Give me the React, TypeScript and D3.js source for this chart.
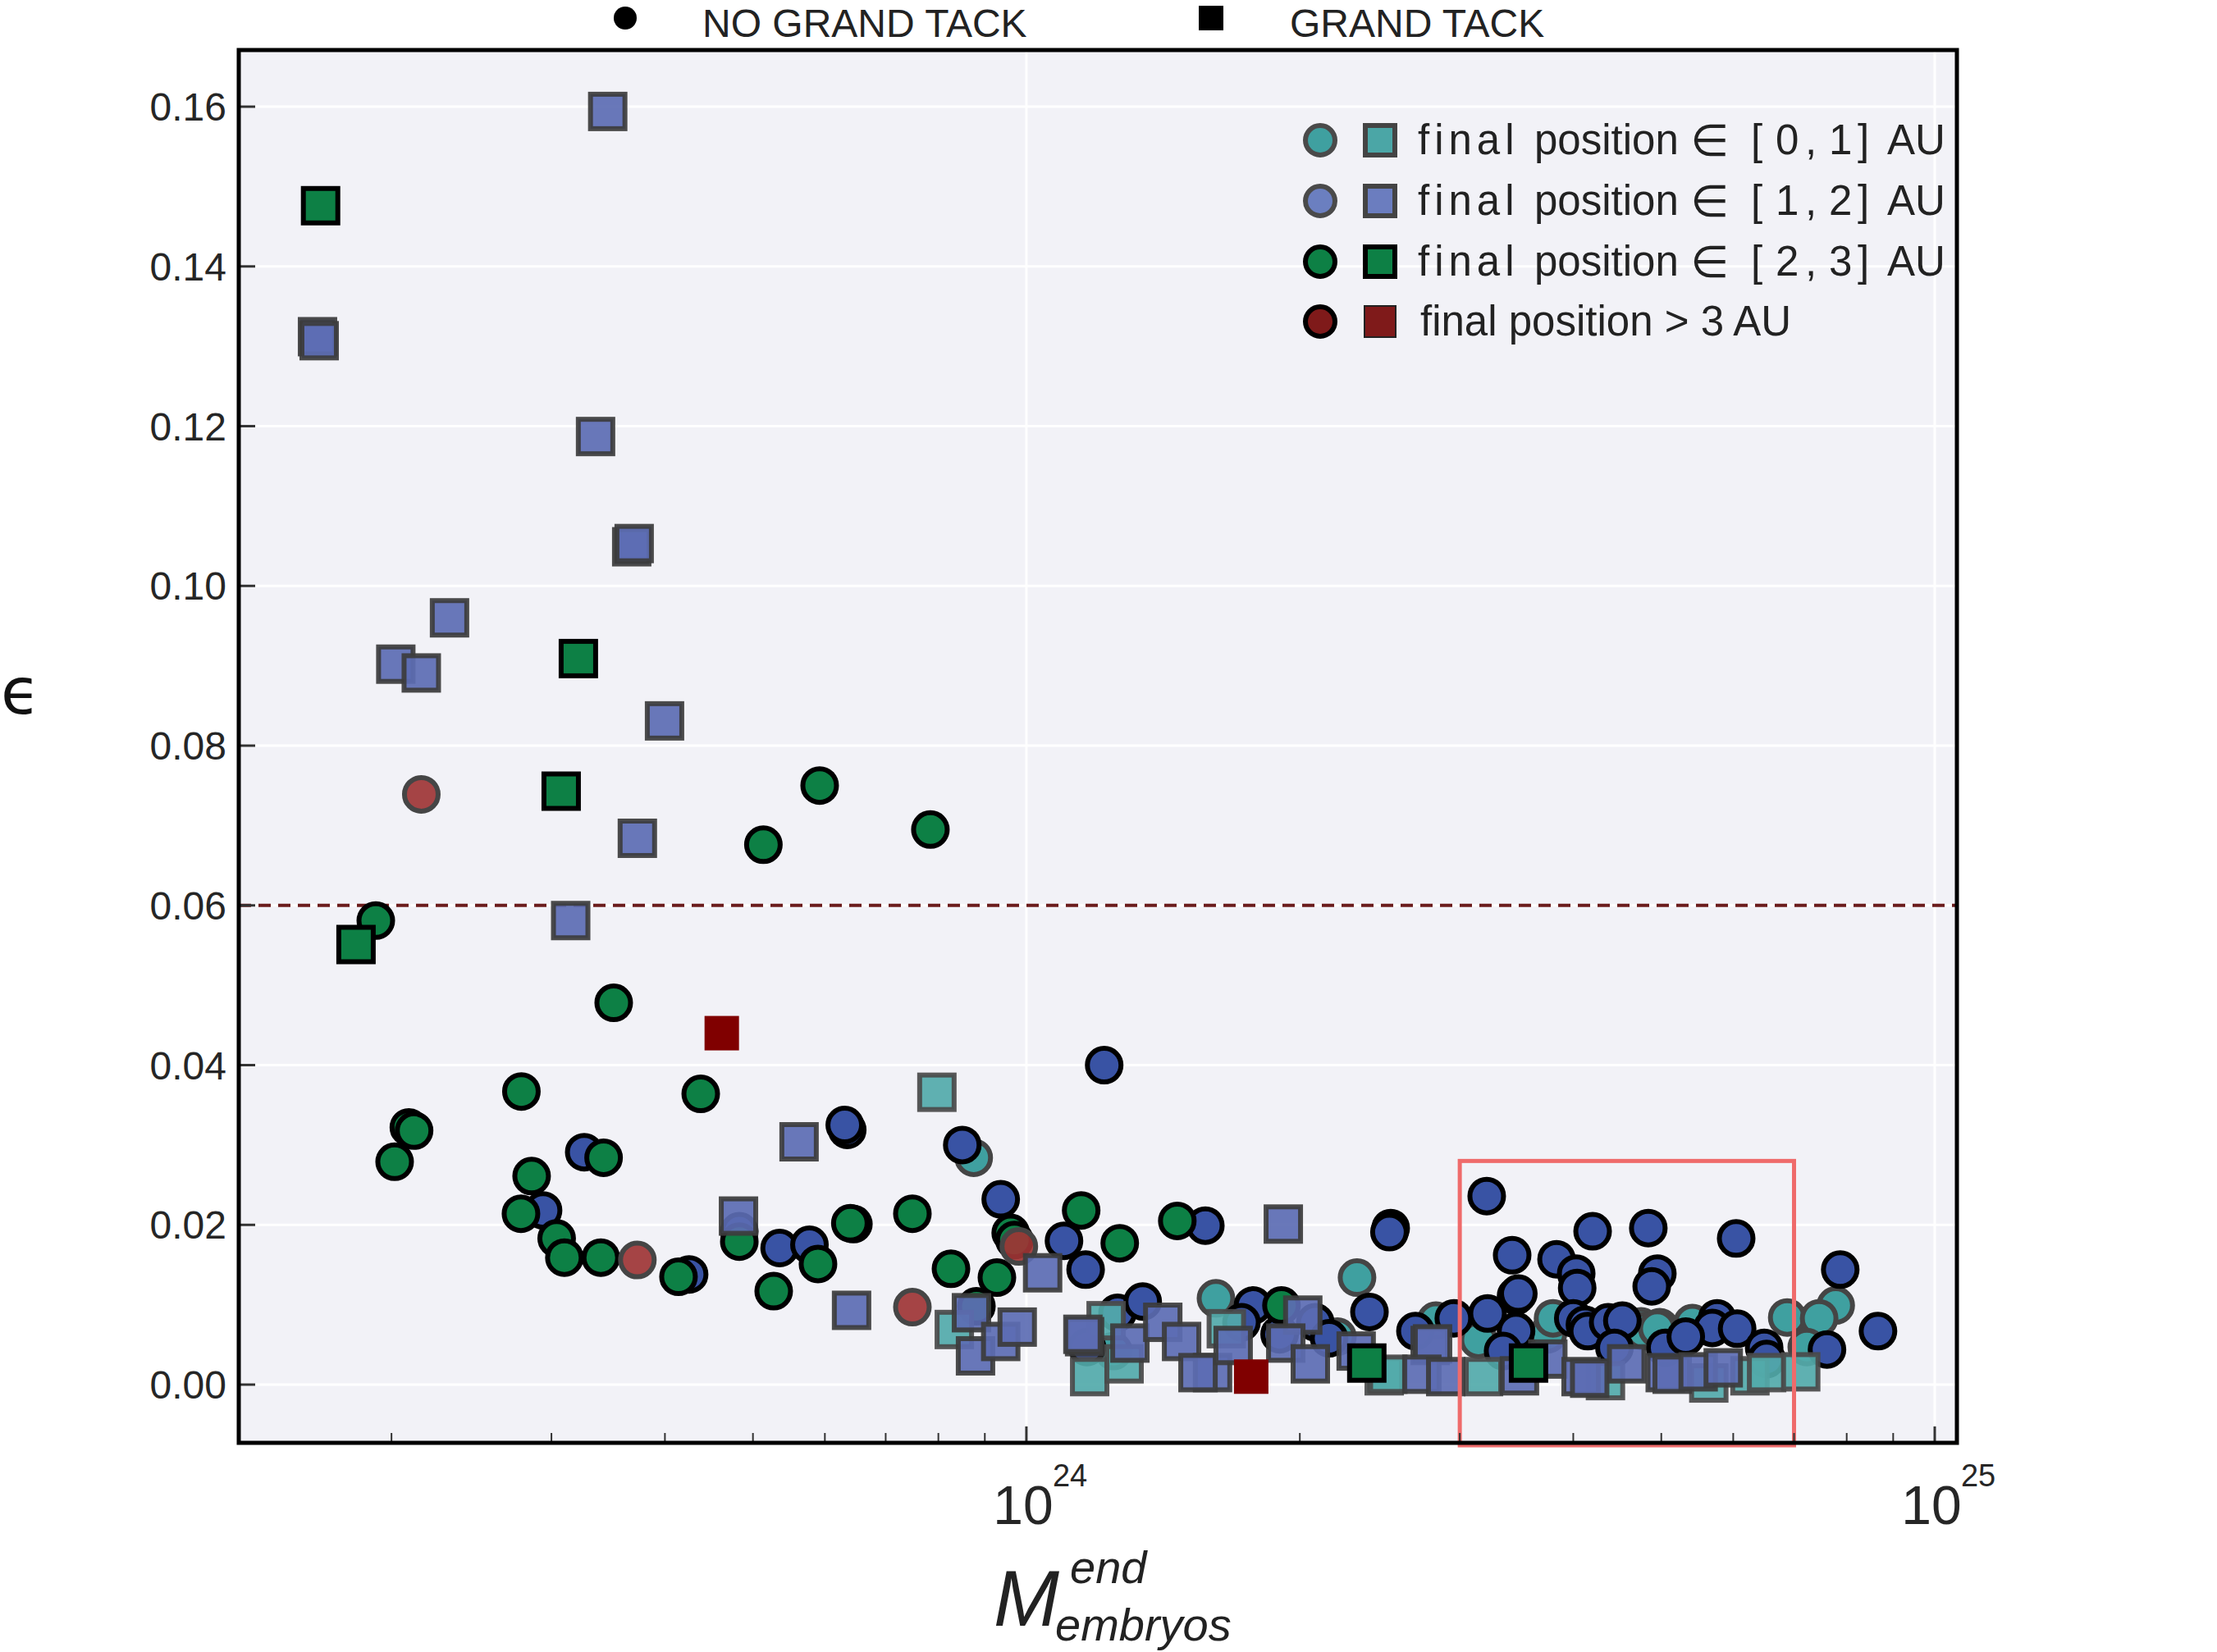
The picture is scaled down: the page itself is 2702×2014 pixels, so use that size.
import React from 'react';
import * as d3 from 'd3';

// masses are in units of 1e24, second value is epsilon
const noGtAu01: [number, number][] = [
  [0.875, 0.0284], [1.617, 0.0108], [2.312, 0.0134], [1.247, 0.0042], [2.2, 0.006],
  [2.824, 0.008], [3.146, 0.0056], [3.75, 0.0063], [3.8, 0.0083], [4.75, 0.0073],
  [4.98, 0.0072], [4.78, 0.0067], [4.95, 0.007], [5.41, 0.0077], [6.88, 0.0084],
  [7.78, 0.0099], [7.46, 0.0083], [7.23, 0.0047],
];

const noGtAu12: [number, number][] = [
  [0.326, 0.0291], [0.2937, 0.0218], [0.4253, 0.0138], [0.483, 0.0192], [0.635, 0.0319],
  [0.631, 0.0325], [1.218, 0.04], [0.85, 0.03], [0.937, 0.0232], [1.1, 0.018],
  [1.162, 0.0144], [0.535, 0.0171], [0.577, 0.0175], [1.166, 0.0047], [1.26, 0.009],
  [1.343, 0.0104], [1.574, 0.0199], [2.518, 0.0196], [2.51, 0.0191], [2.386, 0.0091],
  [1.776, 0.0099], [1.725, 0.0078], [2.08, 0.0078], [2.154, 0.0058], [1.9, 0.0063],
  [2.681, 0.0067], [2.955, 0.0083], [3.212, 0.0236], [3.426, 0.0162], [3.219, 0.0089],
  [3.46, 0.0111], [3.48, 0.0114], [3.46, 0.0067], [3.348, 0.0042], [3.834, 0.0157],
  [4.201, 0.0192], [4.03, 0.0139], [4.04, 0.0121], [4.838, 0.0196], [4.95, 0.0139],
  [4.88, 0.0123], [4.0, 0.0083], [4.12, 0.0075], [4.15, 0.0067], [4.37, 0.0078],
  [4.53, 0.008], [4.44, 0.0046], [5.05, 0.0046], [6.045, 0.0183], [7.87, 0.0144],
  [8.66, 0.0067], [7.61, 0.0044], [5.76, 0.0083], [5.69, 0.0071], [6.06, 0.007],
  [6.49, 0.0046], [6.53, 0.0032], [5.32, 0.006],
];

const noGtAu23: [number, number][] = [
  [0.1922, 0.0581], [0.2016, 0.0279], [0.209, 0.0322], [0.2118, 0.0318], [0.3513, 0.0478],
  [0.278, 0.0367], [0.3424, 0.0284], [0.438, 0.0364], [0.2853, 0.0261], [0.2777, 0.0214],
  [0.304, 0.0183], [0.31, 0.0159], [0.34, 0.0159], [0.414, 0.0135], [0.483, 0.0179],
  [0.5134, 0.0676], [0.5921, 0.075], [0.784, 0.0695], [0.749, 0.0214], [0.645, 0.0201],
  [0.64, 0.0202], [0.527, 0.0117], [0.5896, 0.0151], [0.826, 0.0145], [0.928, 0.0134],
  [0.881, 0.0098], [0.961, 0.019], [0.97, 0.0181], [1.149, 0.0218], [1.267, 0.0177],
  [1.466, 0.0205], [1.909, 0.0099],
];

const noGtAu3: [number, number][] = [
  [0.2157, 0.0739], [0.373, 0.0156], [0.749, 0.0097], [0.981, 0.0173],
];

const gtAu01: [number, number][] = [
  [0.797, 0.0366], [0.833, 0.0069], [1.174, 0.001], [1.224, 0.008], [1.281, 0.0026],
  [1.66, 0.007], [2.477, 0.0011], [2.5, 0.0013], [3.186, 0.001], [4.34, 0.0005],
  [5.64, 0.0002], [6.26, 0.0011], [6.53, 0.0015], [7.12, 0.0016],
];

const gtAu12: [number, number][] = [
  [0.346, 0.1594], [0.1658, 0.1312], [0.1665, 0.1307], [0.3355, 0.1187], [0.3677, 0.1049],
  [0.37, 0.1053], [0.2317, 0.096], [0.2022, 0.0902], [0.2157, 0.0891], [0.3996, 0.0831],
  [0.373, 0.0684], [0.315, 0.0581], [0.562, 0.0304], [0.482, 0.0211], [0.642, 0.0093],
  [1.042, 0.014], [1.918, 0.0201], [0.87, 0.009], [0.879, 0.0036], [0.937, 0.0054],
  [0.977, 0.0072], [1.159, 0.006], [1.3, 0.0052], [1.154, 0.0063], [1.413, 0.0078],
  [1.482, 0.0054], [1.603, 0.0015], [1.545, 0.0015], [1.689, 0.0049], [2.015, 0.0087],
  [1.93, 0.0052], [2.054, 0.0026], [2.307, 0.0042], [2.783, 0.0049], [2.8, 0.0051],
  [2.725, 0.0013], [2.895, 0.001], [3.49, 0.0011], [3.75, 0.0032], [4.08, 0.001],
  [4.17, 0.0008], [4.58, 0.0026], [5.05, 0.0015], [5.14, 0.0013], [5.49, 0.0016],
  [5.85, 0.0021],
];

const gtAu23: [number, number][] = [
  [0.1671, 0.1476], [0.3212, 0.0909], [0.3075, 0.0743], [0.1828, 0.0551], [2.37, 0.0027],
  [3.571, 0.0027],
];

const gtAu3: [number, number][] = [
  [0.462, 0.044], [1.768, 0.001],
];

const xDomain = [0.1358, 10.578];
const yDomain = [-0.00729, 0.16709];
const yTicks = [0, 0.02, 0.04, 0.06, 0.08, 0.1, 0.12, 0.14, 0.16];
const xMajorTicks = [1, 10];
const xMajorExp = ['24', '25'];
const threshold = 0.06;
const boxX = [3, 7];
const boxY = [-0.0076, 0.028];

const topLegend = ['NO GRAND TACK', 'GRAND TACK'];
const legendRanges = [['0', '1'], ['1', '2'], ['2', '3']];
const legendLast = 'final position > 3 AU';

const FONT = "'Liberation Sans', Arial, 'DejaVu Sans', sans-serif";
const W = 2702;
const H = 2014;
const L = 291, R = 2385, T = 61, B = 1759;

const series = [
  { data: noGtAu01, shape: 'circle', fill: '#3fa0a0', stroke: '#454545', fo: 1, so: 1 },
  { data: noGtAu12, shape: 'circle', fill: '#3953a4', stroke: '#000', fo: 1, so: 1 },
  { data: noGtAu23, shape: 'circle', fill: '#0d8045', stroke: '#000', fo: 1, so: 1 },
  { data: noGtAu3, shape: 'circle', fill: '#9e3535', stroke: '#454545', fo: 0.92, so: 1 },
  { data: gtAu01, shape: 'square', fill: '#52aaaa', stroke: '#4a4a4a', fo: 0.92, so: 0.92 },
  { data: gtAu12, shape: 'square', fill: '#5c6db3', stroke: '#3c3c3c', fo: 0.92, so: 0.92 },
  { data: gtAu23, shape: 'square', fill: '#0d8045', stroke: '#000', fo: 1, so: 1 },
  { data: gtAu3, shape: 'square', fill: '#800000', stroke: 'none', fo: 1, so: 1 },
];

const legendRows = [
  { c: '#3fa0a0', ce: '#4a4a4a', s: '#4ba6a6', se: '#444' },
  { c: '#6b7fc0', ce: '#4a4a4a', s: '#6b7dbf', se: '#444' },
  { c: '#0d8045', ce: '#000', s: '#0d8045', se: '#000' },
  { c: '#7f1a1a', ce: '#000', s: '#7f1a1a', se: '#222' },
];

const App: React.FC = () => {
  const x = d3.scaleLog().domain(xDomain).range([L, R]);
  const y = d3.scaleLinear().domain(yDomain).range([B, T]);
  const minorTicks = x
    .ticks()
    .filter((t) => Math.abs(Math.log10(t) - Math.round(Math.log10(t))) > 1e-6);

  const r = 20.5;
  const side = 42;
  const rowY = [171, 245, 319, 392];
  const tx = 1728;

  return (
    <div style={{ position: 'absolute', left: 0, top: 0 }}>
      <svg width={W} height={H} style={{ display: 'block' }} fontFamily={FONT}>
        <rect x={0} y={0} width={W} height={H} fill="#fff" />
        <rect x={L} y={T} width={R - L} height={B - T} fill="#f2f2f7" />

        {/* grid */}
        {yTicks.map((t) => (
          <line key={'gy' + t} x1={L} x2={R} y1={y(t)} y2={y(t)} stroke="#fff" strokeWidth={3} />
        ))}
        {xMajorTicks.map((t) => (
          <line key={'gx' + t} x1={x(t)} x2={x(t)} y1={T} y2={B} stroke="#fff" strokeWidth={3} />
        ))}

        <line x1={L} x2={R} y1={y(threshold)} y2={y(threshold)} stroke="#6b1c1c"
          strokeWidth={4} strokeDasharray="15 9" />

        {/* points */}
        {series.map((s, si) => (
          <g key={si}>
            {s.data.map((d, i) =>
              s.shape === 'circle' ? (
                <circle key={i} cx={x(d[0])} cy={y(d[1])} r={r} fill={s.fill}
                  fillOpacity={s.fo} stroke={s.stroke} strokeOpacity={s.so} strokeWidth={6} />
              ) : (
                <rect key={i} x={x(d[0]) - side / 2} y={y(d[1]) - side / 2} width={side}
                  height={side} fill={s.fill} fillOpacity={s.fo} stroke={s.stroke}
                  strokeOpacity={s.so} strokeWidth={6} />
              )
            )}
          </g>
        ))}

        <rect x={x(boxX[0])} y={y(boxY[1])} width={x(boxX[1]) - x(boxX[0])}
          height={y(boxY[0]) - y(boxY[1])} fill="none" stroke="#ef6b6b" strokeWidth={5} />

        {/* ticks */}
        {yTicks.map((t) => (
          <line key={'ty' + t} x1={L} x2={L + 20} y1={y(t)} y2={y(t)} stroke="#333" strokeWidth={3} />
        ))}
        {xMajorTicks.map((t) => (
          <line key={'tx' + t} x1={x(t)} x2={x(t)} y1={B} y2={B - 20} stroke="#333" strokeWidth={3} />
        ))}
        {minorTicks.map((t) => (
          <line key={'tm' + t} x1={x(t)} x2={x(t)} y1={B} y2={B - 12} stroke="#333" strokeWidth={2} />
        ))}

        <rect x={L} y={T} width={R - L} height={B - T} fill="none" stroke="#000" strokeWidth={5} />

        {/* tick labels */}
        {yTicks.map((t) => (
          <text key={'ly' + t} x={276} y={y(t) + 17} textAnchor="end" fontSize={48} fill="#262626">
            {t.toFixed(2)}
          </text>
        ))}
        {xMajorTicks.map((t, i) => (
          <g key={'lx' + t} fill="#262626">
            <text x={x(t) - 4} y={1858} textAnchor="middle" fontSize={66}>10</text>
            <text x={x(t) + 32} y={1812} fontSize={38}>{xMajorExp[i]}</text>
          </g>
        ))}

        {/* axis labels */}
        <text x={25} y={870} textAnchor="middle" fontSize={78} fill="#111"
          fontFamily="'DejaVu Sans', sans-serif">ϵ</text>
        <g fill="#222" fontStyle="italic">
          <text x={1211} y={1982} fontSize={96}>M</text>
          <text x={1304} y={1930} fontSize={56}>end</text>
          <text x={1286} y={2000} fontSize={56}>embryos</text>
        </g>

        {/* top legend */}
        <circle cx={762} cy={22} r={14} fill="#000" />
        <text x={856} y={45} fontSize={48} fill="#222">{topLegend[0]}</text>
        <rect x={1461} y={7} width={30} height={30} fill="#000" />
        <text x={1572} y={45} fontSize={48} fill="#222">{topLegend[1]}</text>

        {/* inner legend */}
        {legendRows.map((row, i) => (
          <g key={'lg' + i}>
            <circle cx={1609} cy={rowY[i]} r={18} fill={row.c} stroke={row.ce} strokeWidth={6} />
            {i < 3 ? (
              <rect x={1682 - 18} y={rowY[i] - 18} width={36} height={36} fill={row.s}
                stroke={row.se} strokeWidth={6} />
            ) : (
              <rect x={1682 - 19} y={rowY[i] - 19} width={38} height={38} fill={row.s}
                stroke={row.se} strokeWidth={2} />
            )}
          </g>
        ))}
        <g fontSize={51} fill="#222">
          {legendRanges.map((rg, i) => {
            const by = rowY[i] + 17;
            return (
              <g key={'lt' + i}>
                <text x={tx} y={by} letterSpacing={6}>final</text>
                <text x={1870} y={by}>position</text>
                <text x={2060} y={by + 2} fontFamily="'DejaVu Sans', sans-serif" fontSize={54}>∈</text>
                <text x={2134} y={by}>[</text>
                <text x={2164} y={by}>{rg[0]}</text>
                <text x={2200} y={by}>,</text>
                <text x={2229} y={by}>{rg[1]}</text>
                <text x={2264} y={by}>]</text>
                <text x={2300} y={by}>AU</text>
              </g>
            );
          })}
          <text x={1731} y={rowY[3] + 17}>{legendLast}</text>
        </g>
      </svg>
    </div>
  );
};

export default App;
